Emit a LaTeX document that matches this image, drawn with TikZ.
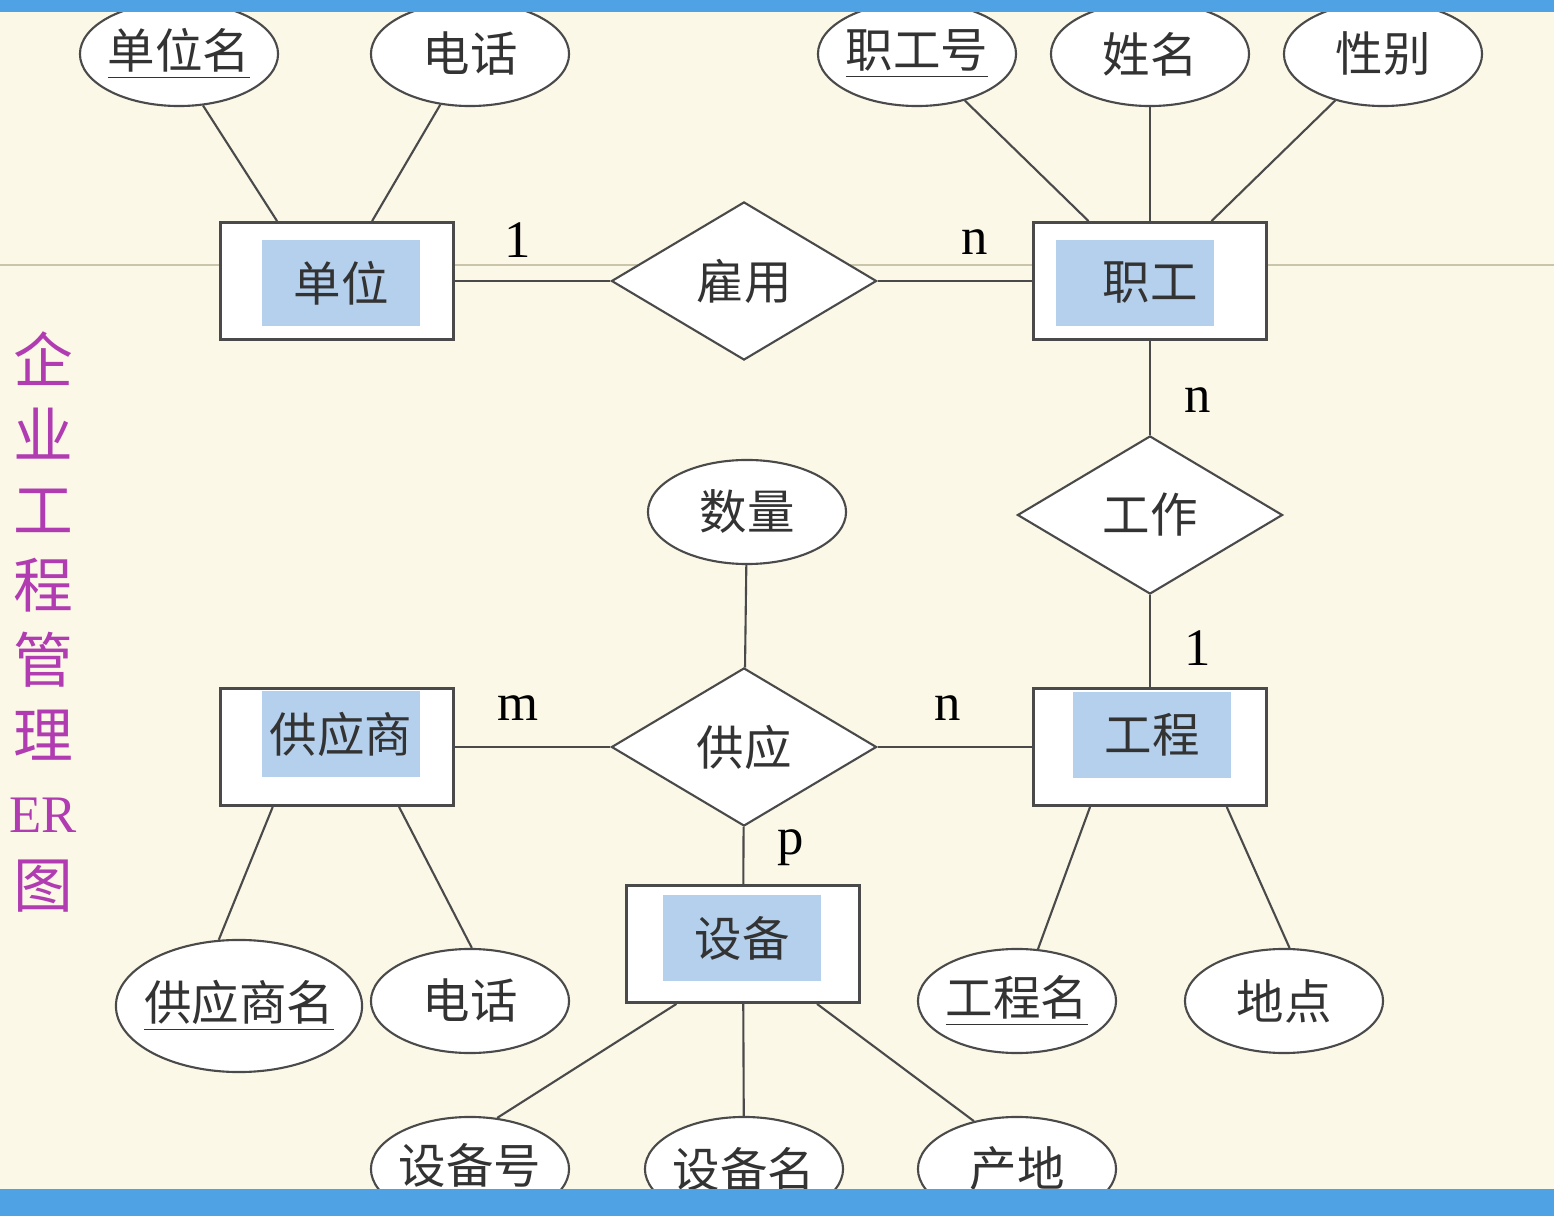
\documentclass[tikz,border=0pt]{standalone}
\usepackage{fontspec}
\setmainfont{Liberation Serif}
\newfontfamily\cjk{Noto Sans CJK SC}
\usepackage{tikz}
\usetikzlibrary{shapes.geometric}
\definecolor{paper}{HTML}{FBF8E8}
\definecolor{band}{HTML}{4FA2E4}
\definecolor{tagblue}{HTML}{B4D0EC}
\definecolor{rule}{HTML}{C9C4AA}
\definecolor{ink}{HTML}{4A4A4A}
\definecolor{plum}{HTML}{B13CB2}

\begin{document}
\begin{tikzpicture}[x=0.01cm,y=-0.01cm]
            \tikzset{Attr/.style={ellipse,draw=ink,fill=white,line width=0.6pt,inner sep=-6pt,
                        minimum width=1.98cm,minimum height=1.04cm,text=black!80,font=\cjk\fontsize{13.5}{16}\selectfont},
                     Ent/.style={rectangle,draw=ink,fill=white,line width=0.8pt,
                        minimum width=2.33cm,minimum height=1.17cm},
                     Tag/.style={rectangle,fill=tagblue,inner sep=0pt,minimum width=1.58cm,
                        minimum height=0.86cm,text=black!80,font=\cjk\fontsize{13.5}{16}\selectfont},
                     Rel/.style={diamond,draw=ink,fill=white,line width=0.6pt,inner sep=0pt,aspect=1.68,
                        minimum width=2.65cm,minimum height=1.58cm,text=black!80,font=\cjk\fontsize{13.5}{16}\selectfont},
                     Card/.style={font=\fontsize{15}{18}\selectfont,inner sep=1pt},
                     Link/.style={draw=ink,line width=0.6pt}}

            \fill[paper] (0,0) rectangle (1554,1216);
            \useasboundingbox (0,0) rectangle (1554,1216);
            \draw[rule,line width=0.5pt] (0,265) -- (1554,265);

            % title
            \node[text=plum,align=center,inner sep=0pt,font=\cjk\fontsize{17}{21.3}\selectfont] (title) at (43,622)
                 {企\\业\\工\\程\\管\\理\\{\rmfamily\fontsize{15}{21.3}\selectfont ER}\\图};

            % entities
            \node[Ent] (dw) at (337,281) {};
            \node[Tag] (dw-t) at (341,283) {单位};
            \node[Ent] (zg) at (1150,281) {};
            \node[Tag] (zg-t) at (1135,283) {\hspace*{0.3cm}职工};
            \node[Ent] (gys) at (337,747) {};
            \node[Tag] (gys-t) at (341,734) {供应商};
            \node[Ent] (gc) at (1150,747) {};
            \node[Tag] (gc-t) at (1152,735) {工程};
            \node[Ent] (sb) at (743,944) {};
            \node[Tag] (sb-t) at (742,938) {设备};

            % relationships
            \node[Rel] (gy) at (744,281) {雇用};
            \node[Rel] (gz) at (1150,515) {工作};
            \node[Rel] (gong) at (744,747) {供应};

            % attributes
            \node[Attr] (dwm) at (179,54) {\underline{单位名}};
            \node[Attr] (dh1) at (470,54) {电话};
            \node[Attr] (zgh) at (917,54) {\underline{职工号}};
            \node[Attr] (xm) at (1150,54) {姓名};
            \node[Attr] (xb) at (1383,54) {性别};
            \node[Attr] (sl) at (747,512) {数量};
            \node[Attr,minimum width=2.46cm,minimum height=1.32cm] (gysm) at (239,1006) {\underline{供应商名}};
            \node[Attr] (dh2) at (470,1001) {电话};
            \node[Attr] (gcm) at (1017,1001) {\underline{工程名}};
            \node[Attr] (dd) at (1284,1001) {地点};
            \node[Attr] (sbh) at (470,1169) {\underline{设备号}};
            \node[Attr] (sbm) at (744,1169) {设备名};
            \node[Attr] (cd) at (1017,1169) {产地};

            % connectors
            \draw[Link] (dwm.-65) -- (dw.135);
            \draw[Link] (dh1) -- (dw);
            \draw[Link] (zgh) -- (zg);
            \draw[Link] (xm) -- (zg);
            \draw[Link] (xb) -- (zg);
            \draw[Link] (dw) -- (gy);
            \draw[Link] (gy) -- (zg);
            \draw[Link] (zg) -- (gz);
            \draw[Link] (gz) -- (gc);
            \draw[Link] (sl) -- (gong);
            \draw[Link] (gys) -- (gong);
            \draw[Link] (gong) -- (gc);
            \draw[Link] (gong) -- (sb);
            \draw[Link] (gys.-137) -- (gysm.107);
            \draw[Link] (gys.-44) -- (dh2.88);
            \draw[Link] (gc.-135) -- (gcm.68);
            \draw[Link] (gc.-38) -- (dd.84);
            \draw[Link] (sb.-138) -- (sbh.62);
            \draw[Link] (sb) -- (sbm);
            \draw[Link] (sb.-39) -- (cd.132);

            % cardinalities
            \node[Card] (c-dw) at (518,240) {1};
            \node[Card] (c-zg) at (975,242) {n};
            \node[Card] (c-gz1) at (1198,400) {n};
            \node[Card] (c-gz2) at (1198,648) {1};
            \node[Card] (c-gys) at (518,708) {m};
            \node[Card] (c-gc) at (948,708) {n};
            \node[Card] (c-sb) at (791,848) {p};

            % bands
            \fill[band] (0,0) rectangle (1554,12);
            \fill[band] (0,1189) rectangle (1554,1216);
\end{tikzpicture}
\end{document}
